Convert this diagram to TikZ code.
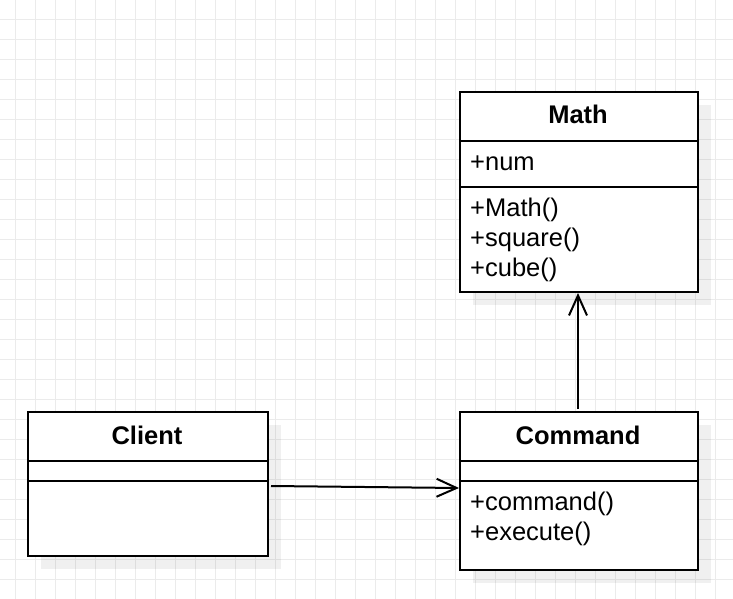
\documentclass[tikz,border=0pt]{standalone}
\usepackage{fontspec}
\setmainfont{Liberation Sans}
\usetikzlibrary{arrows.meta}
\begin{document}
\begin{tikzpicture}[x=1pt,y=-1pt,
  gridline/.style={draw=black!8,line width=1pt},
  shadowbox/.style={fill=black,fill opacity=0.06,draw=none},
  classbox/.style={draw=black,line width=2pt,fill=white,rectangle,inner sep=0pt,anchor=north west},
  sepline/.style={draw=black,line width=2pt},
  title/.style={anchor=base,inner sep=0pt,font=\fontsize{25.5}{30}\selectfont\bfseries},
  member/.style={anchor=base west,inner sep=0pt,font=\fontsize{25.5}{30}\selectfont},
  conn/.style={draw=black,line width=2pt,-{Straight Barb[length=20pt,width=18pt,line width=2pt]}}]
\useasboundingbox (0,0) rectangle (733,599);
\fill[white] (0,0) rectangle (733,599);
% grid
\foreach \gx in {15.5,35.5,...,733} {\draw[gridline] (\gx,0) -- (\gx,599);}
\foreach \gy in {19.5,39.5,...,599} {\draw[gridline] (0,\gy) -- (733,\gy);}
% shadows
\fill[shadowbox] (473,105) rectangle (711,305);
\fill[shadowbox] (41,425) rectangle (281,569);
\fill[shadowbox] (473,425) rectangle (711,583);
% Math
\node[classbox,minimum width=238pt,minimum height=200pt] (math) at (459,91) {};
\draw[sepline] (math.west |- 0,141) -- (math.east |- 0,141);
\draw[sepline] (math.west |- 0,187) -- (math.east |- 0,187);
\node[title] (mathtitle) at (578,124) {Math};
\node[member] (mathnum) at (470,170) {+num};
\node[member] (mathctor) at (470,216) {+Math()};
\node[member] (mathsquare) at (470,246) {+square()};
\node[member] (mathcube) at (470,276) {+cube()};
% Client
\node[classbox,minimum width=240pt,minimum height=144pt] (client) at (27,411) {};
\draw[sepline] (client.west |- 0,461) -- (client.east |- 0,461);
\draw[sepline] (client.west |- 0,481) -- (client.east |- 0,481);
\node[title] (clienttitle) at (147,444) {Client};
% Command
\node[classbox,minimum width=238pt,minimum height=158pt] (command) at (459,411) {};
\draw[sepline] (command.west |- 0,461) -- (command.east |- 0,461);
\draw[sepline] (command.west |- 0,481) -- (command.east |- 0,481);
\node[title] (commandtitle) at (578,444) {Command};
\node[member] (commandcmd) at (470,510) {+command()};
\node[member] (commandexec) at (470,540) {+execute()};
% connectors
\draw[conn] ([shift={(2,2)}]client.east) -- ([shift={(0,-3)}]command.west);
\draw[conn] ([shift={(-1,-2)}]command.north) -- ([xshift=-1pt]math.south);
\end{tikzpicture}
\end{document}
